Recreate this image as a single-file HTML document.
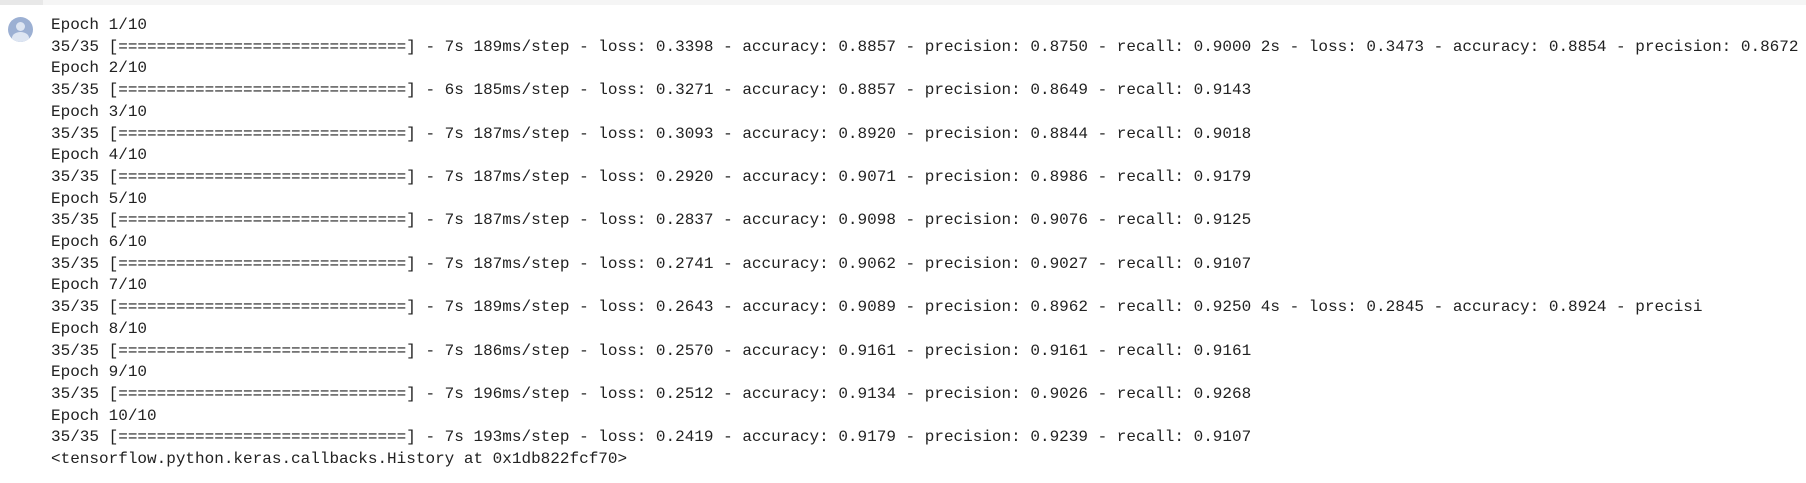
<!DOCTYPE html>
<html><head><meta charset="utf-8"><style>
html,body{margin:0;padding:0;background:#fff;width:1806px;height:483px;overflow:hidden;}
.topbar{position:absolute;left:0;top:0;width:1806px;height:5px;background:#f5f5f5;}
.topbar-dark{position:absolute;left:0;top:0;width:43px;height:5px;background:#e8e8e8;}
.avatar{position:absolute;left:8px;top:17px;width:25px;height:25px;border-radius:50%;background:#9cb0d3;overflow:hidden;}
.head{position:absolute;left:8px;top:5px;width:9px;height:9px;border-radius:50%;background:#dde5f2;}
.body{position:absolute;left:4px;top:15px;width:17px;height:12px;border-radius:50% 50% 0 0;background:#dde5f2;}
pre{position:absolute;left:51px;top:15px;margin:0;font-family:"Liberation Mono",monospace;font-size:16px;line-height:21.7px;color:#212121;white-space:pre;}
</style></head><body>
<div class="topbar"></div>
<div class="topbar-dark"></div>
<div class="avatar"><div class="head"></div><div class="body"></div></div>
<pre>Epoch 1/10
35/35 [==============================] - 7s 189ms/step - loss: 0.3398 - accuracy: 0.8857 - precision: 0.8750 - recall: 0.9000 2s - loss: 0.3473 - accuracy: 0.8854 - precision: 0.8672
Epoch 2/10
35/35 [==============================] - 6s 185ms/step - loss: 0.3271 - accuracy: 0.8857 - precision: 0.8649 - recall: 0.9143
Epoch 3/10
35/35 [==============================] - 7s 187ms/step - loss: 0.3093 - accuracy: 0.8920 - precision: 0.8844 - recall: 0.9018
Epoch 4/10
35/35 [==============================] - 7s 187ms/step - loss: 0.2920 - accuracy: 0.9071 - precision: 0.8986 - recall: 0.9179
Epoch 5/10
35/35 [==============================] - 7s 187ms/step - loss: 0.2837 - accuracy: 0.9098 - precision: 0.9076 - recall: 0.9125
Epoch 6/10
35/35 [==============================] - 7s 187ms/step - loss: 0.2741 - accuracy: 0.9062 - precision: 0.9027 - recall: 0.9107
Epoch 7/10
35/35 [==============================] - 7s 189ms/step - loss: 0.2643 - accuracy: 0.9089 - precision: 0.8962 - recall: 0.9250 4s - loss: 0.2845 - accuracy: 0.8924 - precisi
Epoch 8/10
35/35 [==============================] - 7s 186ms/step - loss: 0.2570 - accuracy: 0.9161 - precision: 0.9161 - recall: 0.9161
Epoch 9/10
35/35 [==============================] - 7s 196ms/step - loss: 0.2512 - accuracy: 0.9134 - precision: 0.9026 - recall: 0.9268
Epoch 10/10
35/35 [==============================] - 7s 193ms/step - loss: 0.2419 - accuracy: 0.9179 - precision: 0.9239 - recall: 0.9107
&lt;tensorflow.python.keras.callbacks.History at 0x1db822fcf70&gt;</pre>
</body></html>
